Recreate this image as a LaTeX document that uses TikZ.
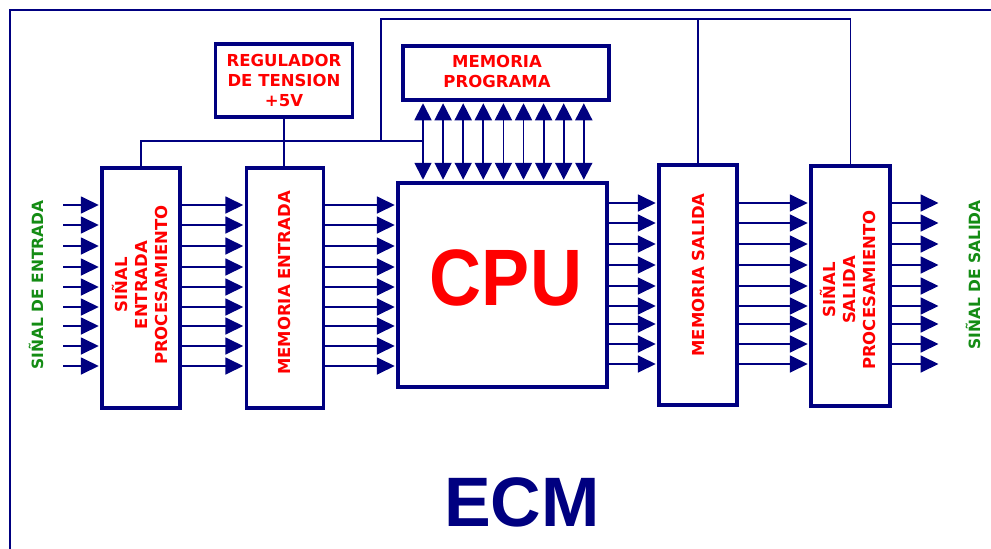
\documentclass[tikz,border=0pt]{standalone}
\usepackage{fontspec}
\usepackage{tikz}
\usetikzlibrary{arrows.meta,positioning}
\newfontfamily\boxfont{DejaVu Sans}
\newfontfamily\titlefont{Liberation Sans}
\definecolor{ecmblue}{RGB}{0,0,128}
\definecolor{ecmred}{RGB}{255,0,0}
\definecolor{ecmgreen}{RGB}{20,140,20}
\tikzset{
  blk/.style={draw=ecmblue, line width=3.5pt, fill=white, inner sep=0pt},
  lbl/.style={text=ecmred, font=\boxfont\bfseries\fontsize{16.5}{20}\selectfont,
    align=center, inner sep=0pt},
  siglbl/.style={text=ecmgreen, font=\boxfont\bfseries\fontsize{15.5}{20}\selectfont,
    rotate=90, inner sep=0pt},
  wire/.style={ecmblue, line width=1.8pt},
  arr/.style={wire, -{Triangle[length=18pt,width=17pt]}, shorten >=1.5pt},
  darr/.style={wire, {Triangle[length=17pt,width=17pt]}-{Triangle[length=17pt,width=17pt]},
    shorten >=1.5pt, shorten <=1.5pt},
}
\begin{document}
\begin{tikzpicture}[x=1pt,y=-1pt]
  \useasboundingbox (0,0) rectangle (991,549);
  \fill[white] (0,0) rectangle (991,549);

  % outer frame, open at right and bottom
  \draw[ecmblue, line width=1.5pt] (991,10) -- (10,10) -- (10,549);

  % blocks
  \node[blk, minimum width=78pt, minimum height=240pt] (procin) at (141,288) {};
  \node[blk, minimum width=77pt, minimum height=240pt] (memin) at (285,288) {};
  \node[blk, minimum width=209pt, minimum height=204pt] (cpu) at (502.5,285) {};
  \node[blk, minimum width=206pt, minimum height=54pt] (memprog) at (506,73) {};
  \node[blk, lbl, minimum width=137pt, minimum height=73pt] (reg) at (284,80.5)
    {REGULADOR\\DE TENSION\\+5V};
  \node[blk, minimum width=78pt, minimum height=240pt] (memout) at (698,285) {};
  \node[blk, minimum width=79pt, minimum height=240pt] (procout) at (850.5,286) {};

  % block texts
  \node[lbl, rotate=90] (procintxt) at (140,285) {SIÑAL\\ENTRADA\\PROCESAMIENTO};
  \node[lbl, rotate=90] (memintxt) at (284,283) {MEMORIA ENTRADA};
  \node[lbl] (memprogtxt) at (497,71) {MEMORIA\\PROGRAMA};
  \node[lbl, rotate=90] (memouttxt) at (698,275) {MEMORIA SALIDA};
  \node[lbl, rotate=90] (procouttxt) at (848,290) {SIÑAL\\SALIDA\\PROCESAMIENTO};
  \node[text=ecmred, font=\titlefont\bfseries\fontsize{80}{80}\selectfont]
    (cputxt) at (506,278) {\scalebox{0.9}[1]{CPU}};

  % signal labels
  \node[siglbl] (sigin) at (36,285) {SIÑAL DE ENTRADA};
  \node[siglbl] (sigout) at (973,275) {SIÑAL DE SALIDA};

  % supply and control lines
  \coordinate (bus) at (0,141);
  \coordinate (top) at (0,19);
  \coordinate (tap) at (381,141);
  \coordinate (bidir) at (423,0);
  \draw[wire] (procin.north) -- (procin.north |- bus) -- (bidir |- bus);
  \draw[wire] (reg.south) -- (reg.south |- memin.north);
  \draw[wire] (tap) -- (tap |- top) -| (procout.north);
  \draw[wire] (memout.north) -- (memout.north |- top);

  % program memory bus
  \foreach \i in {0,...,8}{
    \coordinate (b) at (423+20.1*\i,0);
    \draw[darr] (memprog.south -| b) -- (cpu.north -| b);
  }

  % input side
  \coordinate (inL) at (63,0);
  \foreach \y in {205,225,246,267,287,307,326,346,366}{
    \coordinate (r) at (0,\y);
    \draw[arr] (inL |- r) -- (procin.west |- r);
    \draw[arr] (procin.east |- r) -- (memin.west |- r);
    \draw[arr] (memin.east |- r) -- (cpu.west |- r);
  }
  % output side
  \coordinate (outR) at (940,0);
  \foreach \y in {203,223,244,265,286,306,324,344,364}{
    \coordinate (r) at (0,\y);
    \draw[arr] (cpu.east |- r) -- (memout.west |- r);
    \draw[arr] (memout.east |- r) -- (procout.west |- r);
    \draw[arr] (procout.east |- r) -- (outR |- r);
  }

  \node[text=ecmblue, font=\titlefont\bfseries\fontsize{70}{70}\selectfont]
    (ecm) at (522,502) {ECM};
\end{tikzpicture}
\end{document}
